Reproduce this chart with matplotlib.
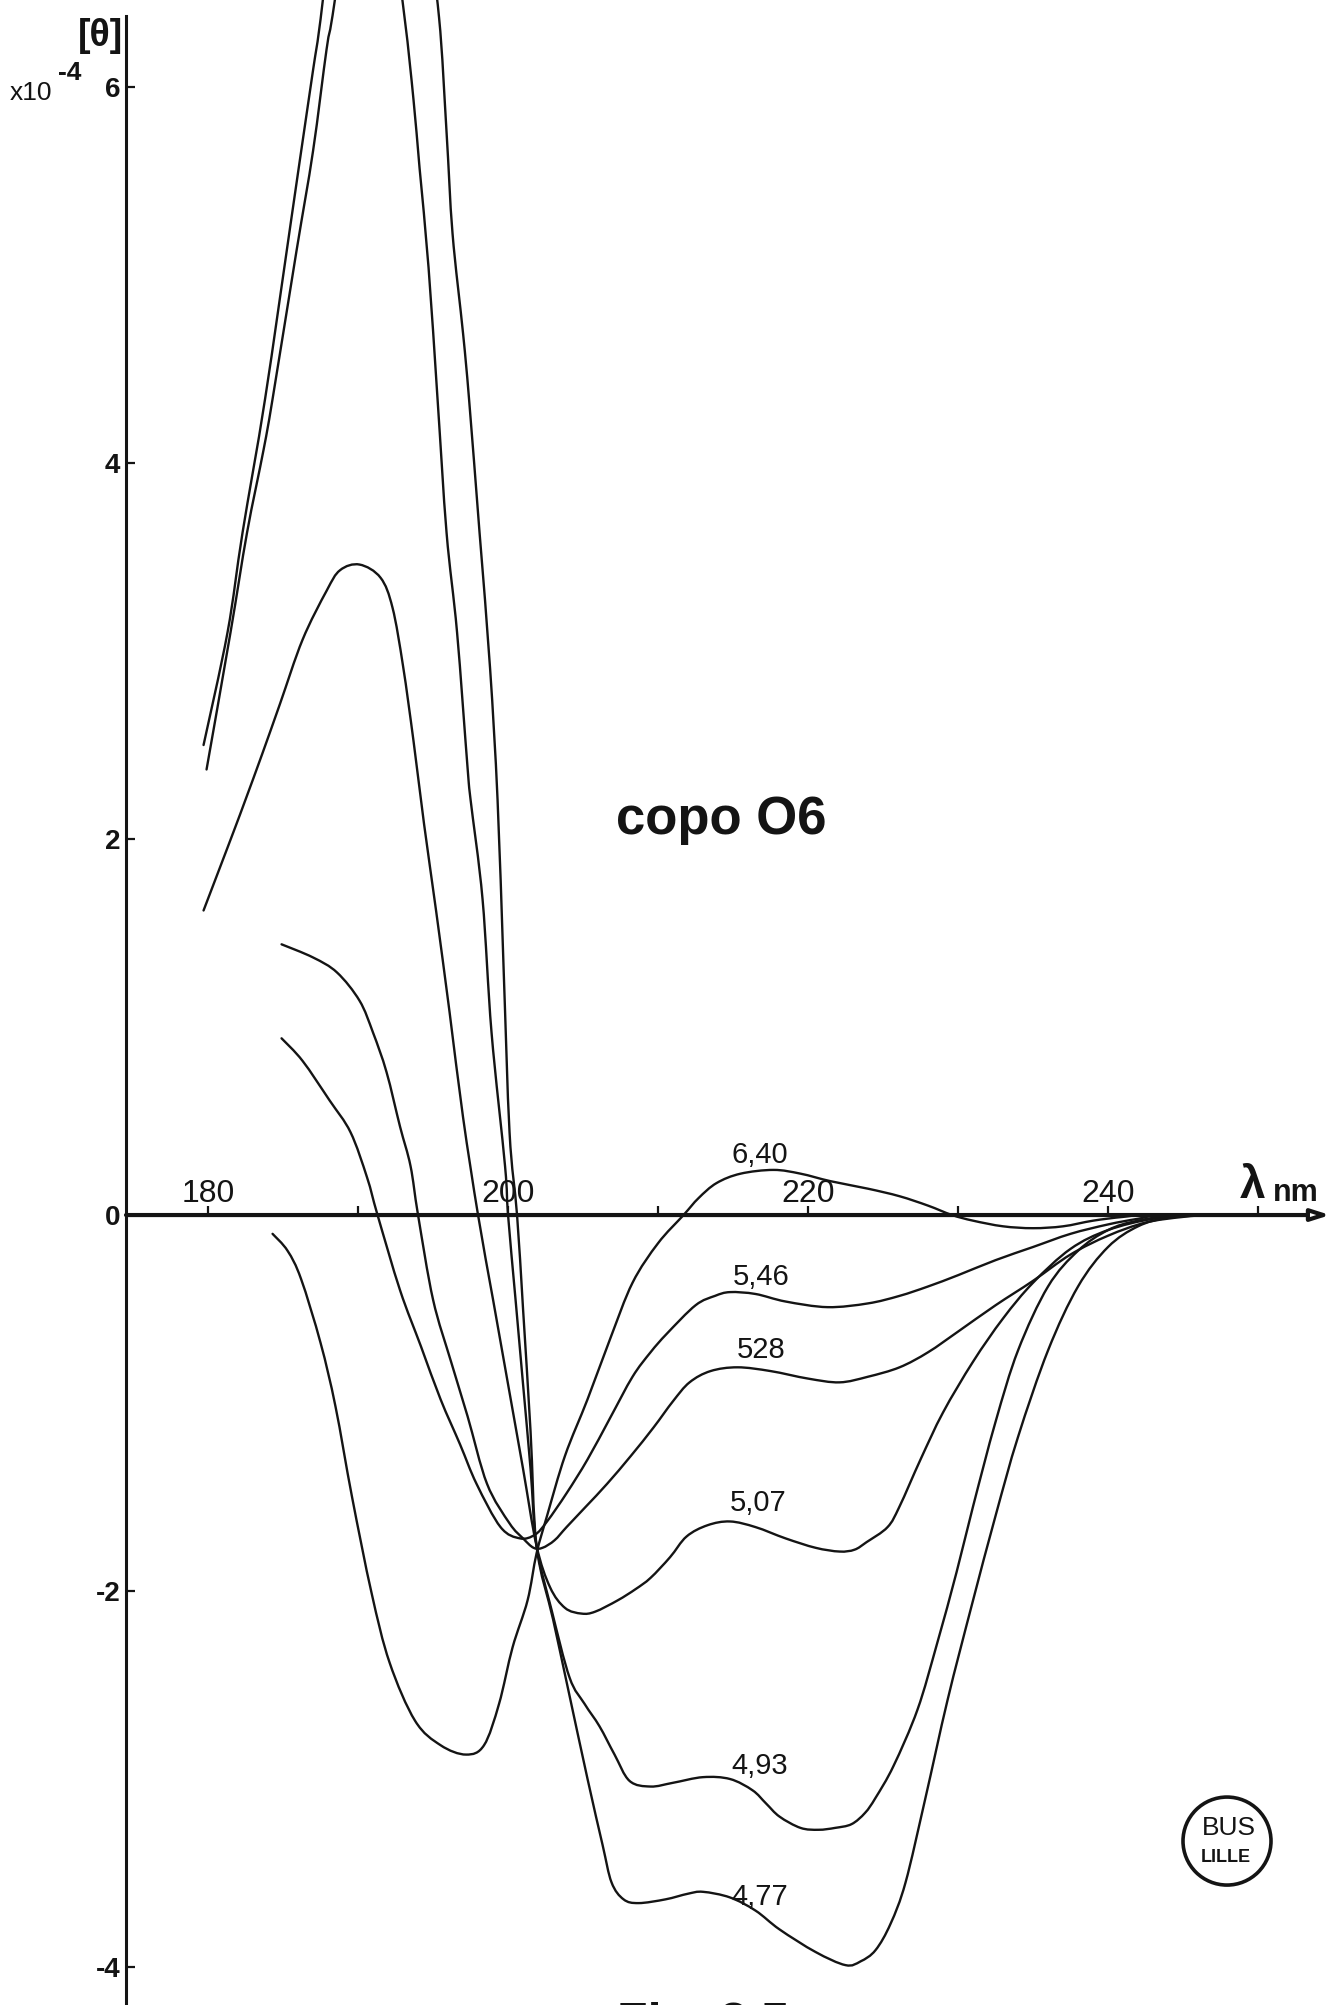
import matplotlib
matplotlib.use("Agg")
import matplotlib.pyplot as plt
from matplotlib.patches import Ellipse, PathPatch
from matplotlib.path import Path

plt.rcParams["font.family"] = ["Liberation Sans", "DejaVu Sans"]

# ---- CD spectra of copolymer O6 at several pH values ([theta] x 1e-4 vs wavelength, nm)
wl_640 = [184.3, 185.3, 186.2, 187.5, 188.5, 189.6, 190.9, 192.1, 193.8, 195.5, 197.2, 198.4,
          199.4, 200.3, 201.3, 201.9, 202.6, 203.8, 205.3, 206.8, 208.3, 210.0, 211.7, 212.7,
          213.9, 215.5, 217.7, 219.5, 221.5, 224.0, 226.1, 228.0, 229.6, 231.0, 233.0, 235.0,
          237.0, 239.0, 241.0, 243.0, 252.0]
th_640 = [-0.10, -0.19, -0.34, -0.68, -1.02, -1.50, -2.01, -2.38, -2.69, -2.82, -2.87, -2.82,
          -2.60, -2.30, -2.05, -1.80, -1.60, -1.28, -0.98, -0.66, -0.36, -0.15, 0.00, 0.09,
          0.17, 0.22, 0.24, 0.22, 0.18, 0.14, 0.10, 0.05, 0.00, -0.03, -0.06, -0.07,
          -0.06, -0.03, -0.01, 0.00, 0.00]

wl_546 = [184.9, 186.3, 188.1, 189.5, 190.6, 191.3, 192.8, 194.2, 195.5, 196.8, 197.9, 199.5,
          200.8, 201.8, 202.6, 203.9, 205.3, 206.8, 208.3, 209.5, 210.6, 212.5, 213.8, 214.8,
          216.5, 218.5, 221.3, 224.0, 226.1, 228.0, 230.0, 232.5, 235.0, 237.5, 240.0, 242.0,
          244.0, 252.0]
th_546 = [0.94, 0.82, 0.61, 0.44, 0.20, 0.00, -0.40, -0.70, -0.98, -1.22, -1.43, -1.66,
          -1.72, -1.70, -1.63, -1.48, -1.30, -1.08, -0.86, -0.73, -0.63, -0.48, -0.43, -0.41,
          -0.42, -0.46, -0.49, -0.47, -0.43, -0.38, -0.32, -0.24, -0.17, -0.10, -0.05, -0.02,
          0.00, 0.00]

wl_528 = [184.9, 187.0, 188.6, 190.1, 191.0, 191.9, 192.8, 193.5, 194.0, 195.0, 196.2, 197.3,
          198.6, 200.1, 201.0, 201.7, 202.3, 203.1, 203.9, 205.2, 206.6, 208.2, 209.7, 211.0,
          212.1, 213.5, 215.3, 217.5, 220.0, 222.1, 224.0, 226.1, 228.0, 230.0, 232.5, 235.0,
          237.5, 240.0, 242.5, 245.0, 247.0, 252.0]
th_528 = [1.44, 1.37, 1.29, 1.14, 0.97, 0.76, 0.47, 0.26, 0.00, -0.45, -0.78, -1.07,
          -1.43, -1.64, -1.72, -1.77, -1.77, -1.73, -1.66, -1.55, -1.43, -1.28, -1.13, -0.99,
          -0.89, -0.83, -0.81, -0.83, -0.87, -0.89, -0.86, -0.81, -0.73, -0.62, -0.48, -0.35,
          -0.21, -0.11, -0.04, -0.01, 0.00, 0.00]

wl_507 = [179.7, 180.8, 181.8, 182.5, 183.6, 184.8, 186.3, 187.9, 188.8, 190.1, 191.5, 192.3,
          193.0, 193.7, 194.4, 195.2, 196.1, 197.0, 198.0, 199.0, 200.0, 201.0, 201.9, 202.8,
          203.8, 204.9, 205.8, 207.3, 208.5, 209.5, 210.8, 211.9, 213.3, 214.8, 216.5, 218.5,
          220.5, 222.1, 223.1, 223.9, 225.3, 226.1, 227.5, 229.0, 231.0, 233.0, 235.0, 237.5,
          240.0, 243.0, 246.0, 252.0]
th_507 = [1.62, 1.85, 2.06, 2.21, 2.45, 2.72, 3.06, 3.32, 3.43, 3.46, 3.39, 3.23,
          2.92, 2.52, 2.08, 1.62, 1.08, 0.52, 0.00, -0.45, -0.90, -1.35, -1.76, -1.98,
          -2.09, -2.12, -2.11, -2.05, -1.99, -1.93, -1.82, -1.71, -1.65, -1.63, -1.66, -1.72,
          -1.77, -1.79, -1.78, -1.74, -1.66, -1.55, -1.30, -1.05, -0.78, -0.55, -0.36, -0.18,
          -0.08, -0.02, 0.00, 0.00]

wl_493 = [179.9, 181.5, 182.6, 183.7, 184.3, 185.9, 187.0, 187.9, 188.3, 189.5, 190.7, 192.0,
          193.1, 193.7, 194.1, 194.7, 195.3, 195.9, 196.6, 197.3, 197.5, 198.3, 198.9, 199.8,
          200.0, 200.5, 201.0, 201.5, 201.9, 202.9, 204.1, 205.1, 206.1, 207.1, 208.1, 209.5,
          211.0, 213.0, 214.8, 216.3, 217.2, 218.1, 219.5, 220.7, 221.8, 222.9, 223.8, 224.5,
          225.7, 227.3, 228.6, 229.9, 231.0, 232.5, 234.0, 236.0, 238.0, 240.0, 242.0, 245.0,
          252.0]
th_493 = [2.37, 3.10, 3.63, 4.07, 4.34, 5.13, 5.66, 6.20, 6.38, 7.00, 7.30, 7.00,
          6.37, 5.93, 5.57, 5.04, 4.34, 3.63, 3.10, 2.38, 2.21, 1.68, 0.97, 0.26,
          0.00, -0.45, -0.90, -1.35, -1.76, -2.10, -2.46, -2.60, -2.72, -2.87, -3.01, -3.04,
          -3.02, -2.99, -3.00, -3.06, -3.13, -3.20, -3.26, -3.27, -3.26, -3.24, -3.18, -3.10,
          -2.93, -2.63, -2.28, -1.90, -1.55, -1.10, -0.72, -0.38, -0.19, -0.08, -0.03, 0.00,
          0.00]

wl_477 = [179.7, 181.3, 182.3, 183.8, 185.5, 186.1, 187.0, 187.5, 189.0, 191.0, 193.0,
          194.5, 195.4, 195.9, 196.3, 197.0, 197.4, 198.1, 198.8, 199.3, 199.7, 200.1, 200.6,
          201.0, 201.5, 201.9, 203.0, 204.0, 205.3, 206.3, 206.9, 207.7, 208.7, 210.5, 212.0,
          213.0, 214.8, 216.5, 218.1, 220.5, 222.5, 223.5, 224.5, 225.5, 226.5, 227.8, 229.3,
          230.9, 232.5, 234.0, 236.0, 238.0, 240.0, 242.0, 244.0, 247.0, 252.0]
th_477 = [2.50, 3.10, 3.63, 4.34, 5.27, 5.60, 6.09, 6.36, 7.30, 7.80, 7.50,
          6.90, 6.37, 5.76, 5.22, 4.69, 4.34, 3.63, 2.91, 2.21, 1.32, 0.44, 0.00,
          -0.50, -1.15, -1.76, -2.15, -2.52, -3.00, -3.35, -3.55, -3.64, -3.66, -3.64, -3.61,
          -3.60, -3.63, -3.70, -3.80, -3.92, -3.99, -3.97, -3.91, -3.77, -3.55, -3.11, -2.58,
          -2.08, -1.60, -1.18, -0.72, -0.38, -0.17, -0.06, -0.015, 0.00, 0.00]

curves = [(wl_640, th_640), (wl_546, th_546), (wl_528, th_528),
          (wl_507, th_507), (wl_493, th_493), (wl_477, th_477)]

# pH labels written on the curves
ph_labels = ["6,40", "5,46", "528", "5,07", "4,93", "4,77"]
ph_label_wl = [216.8, 216.9, 216.9, 216.7, 216.8, 216.8]
ph_label_th = [0.32, -0.33, -0.72, -1.53, -2.93, -3.63]

x_major = [180, 200, 220, 240]
x_major_labels = ["180", "200", "220", "240"]
x_minor = [190, 210, 230, 250]
y_ticks = [-4, -2, 0, 2, 4, 6]
y_tick_labels = ["-4", "-2", "0", "2", "4", "6"]


def smooth_path(xs, ys):
    """Pen-like curve through the measured points (Catmull-Rom as cubic Beziers)."""
    pts = list(zip(xs, ys))
    verts = [pts[0]]
    codes = [Path.MOVETO]
    n = len(pts)
    for i in range(n - 1):
        p0 = pts[i - 1] if i > 0 else pts[i]
        p1 = pts[i]
        p2 = pts[i + 1]
        p3 = pts[i + 2] if i + 2 < n else pts[i + 1]
        c1 = (p1[0] + (p2[0] - p0[0]) / 6.0, p1[1] + (p2[1] - p0[1]) / 6.0)
        c2 = (p2[0] - (p3[0] - p1[0]) / 6.0, p2[1] - (p3[1] - p1[1]) / 6.0)
        verts += [c1, c2, p2]
        codes += [Path.CURVE4] * 3
    return Path(verts, codes)


# ---- figure
W, H, DPI = 1338, 2005, 100
fig = plt.figure(figsize=(W / DPI, H / DPI), dpi=DPI)
fig.patch.set_facecolor("white")
ax = fig.add_axes([0, 0, 1, 1])
ax.set_xlim(166.13, 255.33)
ax.set_ylim(-4.202, 6.463)
ax.set_facecolor("white")
for s in ax.spines.values():
    s.set_visible(False)

ink = "#141414"
Y_AXIS_WL = 174.53

# vertical [theta] axis
sp = ax.spines["left"]
sp.set_visible(True)
sp.set_position(("data", Y_AXIS_WL))
sp.set_bounds(-4.202, 6.38)
sp.set_linewidth(2.2)
sp.set_color(ink)
ax.set_yticks(y_ticks)
ax.set_yticklabels(y_tick_labels, fontsize=20, fontweight="bold", color=ink)
ax.tick_params(axis="y", direction="in", length=6.5, width=1.6, pad=4, colors=ink)

# wavelength ticks sit on the theta = 0 line, labels above it
ax.xaxis.tick_top()
ax.spines["top"].set_position(("data", 0))
ax.set_xticks(x_major)
ax.set_xticklabels(x_major_labels, fontsize=23, color=ink)
ax.set_xticks(x_minor, minor=True)
ax.tick_params(axis="x", which="both", direction="out", length=6.5, width=1.6,
               pad=-2, colors=ink)

# horizontal axis with arrow
ax.annotate("", xy=(254.8, 0), xytext=(Y_AXIS_WL, 0),
            arrowprops=dict(arrowstyle="-|>,head_length=1.1,head_width=0.35",
                            lw=3.0, edgecolor=ink, facecolor="white",
                            shrinkA=0, shrinkB=0), zorder=3)

for wl, th in curves:
    ax.add_patch(PathPatch(smooth_path(wl, th), fill=False, lw=1.7, edgecolor=ink,
                           joinstyle="round", capstyle="round", zorder=4))

for txt, x, y in zip(ph_labels, ph_label_wl, ph_label_th):
    ax.text(x, y, txt, fontsize=21, ha="center", va="center", color=ink, zorder=5)

# axis captions
ax.text(172.8, 6.27, "[θ]", fontsize=27, fontweight="bold", ha="center", va="center", color=ink)
ax.text(166.8, 5.93, "x10", fontsize=19, ha="left", va="baseline", color=ink)
ax.text(170.0, 6.04, "-4", fontsize=19, fontweight="bold", ha="left", va="baseline", color=ink)
ax.text(249.6, 0.035, "λ", fontsize=33, fontweight="bold", ha="center", va="bottom", color=ink)
ax.text(252.5, 0.035, "nm", fontsize=22, fontweight="bold", ha="center", va="bottom", color=ink)

ax.text(214.2, 2.10, "copo O6", fontsize=38, fontweight="bold", ha="center", va="center",
        color=ink)

# figure caption, only its top edge falls on the page
ax.text(207.27, -4.185, "Fig. 3.5", fontsize=36, fontweight="bold", ha="left", va="top",
        color=ink, clip_on=False)

# library stamp
ax.add_patch(Ellipse((247.93, -3.33), width=2 * 44 / 15, height=2 * 44 / 188,
                     fill=False, lw=2.6, edgecolor=ink))
ax.text(248.05, -3.26, "BUS", fontsize=19, ha="center", va="center", color=ink,
        family=["Liberation Sans Narrow", "Liberation Sans"])
ax.text(247.87, -3.42, "LILLE", fontsize=13, fontweight="bold", ha="center", va="center",
        color=ink, family=["Liberation Sans Narrow", "Liberation Sans"])

fig.savefig("out.png", dpi=DPI, facecolor="white")
